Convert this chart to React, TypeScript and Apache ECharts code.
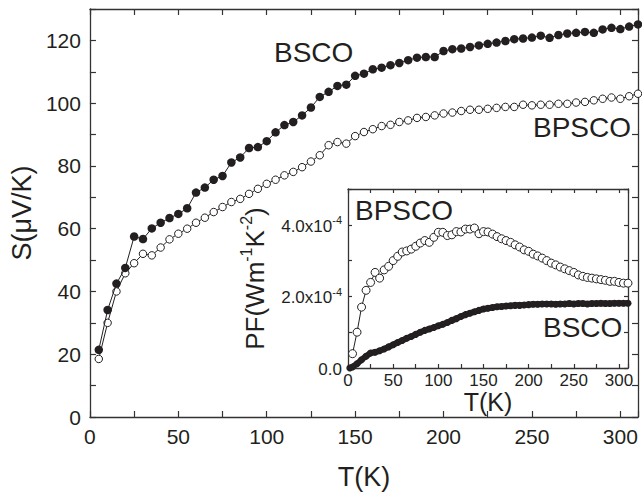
import React, { useEffect, useRef } from 'react';
import * as echarts from 'echarts';

const FONT = '"Liberation Sans", Arial, Helvetica, sans-serif';
const INK = '#231f20';
const AXIS = '#333333';

// Main panel: Seebeck coefficient S (µV/K) vs T (K)
const mainT = [5, 10, 15, 20, 25, 30, 35, 40, 45, 50, 55, 60, 65, 70, 75, 80, 85, 90, 95, 100,
  105, 110, 115, 120, 125, 130, 135, 140, 145, 150, 155, 160, 165, 170, 175, 180, 185, 190, 195, 200,
  205, 210, 215, 220, 225, 230, 235, 240, 245, 250, 255, 260, 265, 270, 275, 280, 285, 290, 295, 300,
  305, 310];
const mainBSCO = [21.4, 34.1, 42.5, 47.5, 57.5, 56.7, 60.1, 61.9, 63.4, 64.7, 66.5, 71.5, 73.1, 75.6, 76.8, 81.1, 82.7, 85.7, 86.0, 87.9,
  90.7, 93.0, 94.0, 96.1, 98.6, 102.0, 103.6, 105.5, 105.9, 108.7, 109.4, 110.8, 111.3, 112.1, 112.8, 113.7, 114.5, 114.7, 114.7, 116.6,
  117.2, 117.4, 117.9, 118.4, 118.9, 119.3, 119.8, 120.4, 120.6, 120.9, 121.5, 120.8, 121.7, 122.2, 122.4, 122.7, 122.4, 123.5, 124.0, 123.6,
  124.4, 125.1];
const mainBPSCO = [18.5, 30.0, 40.0, 45.8, 49.0, 52.0, 51.5, 54.0, 56.6, 58.4, 60.0, 61.9, 63.5, 65.3, 66.9, 68.5, 69.5, 71.1, 72.7, 74.3,
  75.6, 77.0, 78.1, 79.6, 81.4, 83.4, 86.6, 87.6, 87.1, 89.5, 90.8, 91.7, 92.7, 93.1, 94.0, 94.5, 95.3, 95.6, 96.1, 96.7,
  97.0, 97.5, 97.9, 97.9, 98.2, 98.5, 98.8, 98.8, 99.5, 99.3, 99.5, 99.5, 99.8, 99.8, 100.2, 100.4, 100.9, 101.4, 101.8, 101.4,
  102.2, 103.0];

// Inset: power factor PF (x10^-4 W m^-1 K^-2) vs T (K)
const insetT = mainT;
const insetBPSCO = [0.40, 1.00, 1.70, 2.17, 2.39, 2.67, 2.51, 2.74, 2.84, 3.00, 3.12, 3.24, 3.27, 3.32, 3.40, 3.49, 3.56, 3.51, 3.65, 3.79,
  3.79, 3.70, 3.72, 3.81, 3.80, 3.88, 3.88, 3.91, 3.75, 3.81, 3.80, 3.74, 3.67, 3.61, 3.56, 3.51, 3.44, 3.38, 3.30, 3.26,
  3.18, 3.13, 3.07, 3.00, 2.93, 2.88, 2.82, 2.77, 2.72, 2.67, 2.60, 2.56, 2.53, 2.51, 2.49, 2.47, 2.45, 2.42, 2.42, 2.39,
  2.37, 2.37];
const insetT2 = [2, 5, 10, 15, 20, 25, 30, 35, 40, 45, 50, 55, 60, 65, 70, 75, 80, 85, 90, 95, 100,
  105, 110, 115, 120, 125, 130, 135, 140, 145, 150, 155, 160, 165, 170, 175, 180, 185, 190, 195, 200,
  205, 210, 215, 220, 225, 230, 235, 240, 245, 250, 255, 260, 265, 270, 275, 280, 285, 290, 295, 300,
  305, 310];
const insetBSCO = [0.0, 0.03, 0.12, 0.23, 0.33, 0.42, 0.44, 0.48, 0.53, 0.59, 0.65, 0.71, 0.77, 0.83, 0.88, 0.94, 1.00, 1.05, 1.09, 1.13, 1.18,
  1.22, 1.27, 1.33, 1.38, 1.44, 1.49, 1.53, 1.57, 1.61, 1.65, 1.67, 1.69, 1.71, 1.72, 1.73, 1.74, 1.75, 1.75, 1.76, 1.77,
  1.78, 1.78, 1.79, 1.79, 1.79, 1.78, 1.79, 1.79, 1.80, 1.79, 1.80, 1.80, 1.79, 1.80, 1.80, 1.81, 1.80, 1.80, 1.81, 1.81,
  1.81, 1.81];

const zip = (xs: number[], ys: number[]) => xs.map((x, i) => [x, ys[i]]);

export default function App() {
  const ref = useRef<HTMLDivElement>(null);
  useEffect(() => {
    const chart = echarts.init(ref.current!, null, { renderer: 'svg' });
    const axisLine = { show: true, onZero: false, lineStyle: { color: AXIS, width: 1.3 } };
    const tick = (len: number) => ({ show: true, inside: true, length: len, lineStyle: { color: AXIS, width: 1.2 } });
    const noLabel = { show: false };
    const base = { type: 'value' as const, splitLine: { show: false }, axisLine, silent: true };

    const mainX = { min: 0, max: 310, interval: 25 };
    const mainY = { min: 0, max: 130, interval: 10 };
    const inX = { min: 0, max: 310, interval: 25 };
    const inY = { min: 0, max: 5, interval: 1 };

    const openCircle = { color: '#ffffff', borderColor: INK, borderWidth: 1 };

    chart.setOption({
      animation: false,
      textStyle: { fontFamily: FONT, color: INK },
      grid: [
        { left: 87, top: 9, width: 551, height: 409 },
        { left: 348, top: 189, width: 280, height: 179 },
      ],
      xAxis: [
        {
          ...base, ...mainX, gridIndex: 0, position: 'bottom', axisTick: tick(6),
          axisLabel: {
            fontSize: 21, color: INK, fontFamily: FONT, margin: 9,
            formatter: (v: number) => (v % 50 === 0 ? String(v) : ''),
          },
          name: 'T(K)', nameLocation: 'middle', nameGap: 46,
          nameTextStyle: { fontSize: 27, color: INK, fontFamily: FONT },
        },
        { ...base, ...mainX, gridIndex: 0, position: 'top', axisTick: tick(6), axisLabel: noLabel },
        {
          ...base, ...inX, gridIndex: 1, position: 'bottom', axisTick: tick(4),
          axisLabel: {
            fontSize: 17, color: INK, fontFamily: FONT, margin: 4,
            formatter: (v: number) => (v % 50 === 0 ? String(v) : ''),
          },
          name: 'T(K)', nameLocation: 'middle', nameGap: 20,
          nameTextStyle: { fontSize: 25, color: INK, fontFamily: FONT },
        },
        { ...base, ...inX, gridIndex: 1, position: 'top', axisTick: tick(4), axisLabel: noLabel },
      ],
      yAxis: [
        {
          ...base, ...mainY, gridIndex: 0, position: 'left', axisTick: tick(6),
          axisLabel: {
            fontSize: 21, color: INK, fontFamily: FONT, margin: 9,
            formatter: (v: number) => (v % 20 === 0 ? String(v) : ''),
          },
          name: 'S(\u03bcV/K)', nameLocation: 'middle', nameRotate: 90, nameGap: 51,
          nameTextStyle: { fontSize: 27, color: INK, fontFamily: FONT },
        },
        { ...base, ...mainY, gridIndex: 0, position: 'right', axisTick: tick(6), axisLabel: noLabel },
        {
          ...base, ...inY, gridIndex: 1, position: 'left', axisTick: tick(4),
          axisLabel: {
            fontSize: 17, color: INK, fontFamily: FONT, margin: 6,
            formatter: (v: number) => {
              const k = Math.round(v);
              if (Math.abs(v - k) > 1e-6 || k % 2 !== 0 || k > 4) return '';
              if (k === 0) return '{a|0.0}';
              return '{a|' + k.toFixed(1) + 'x10}{b|-4}';
            },
            rich: {
              a: { fontSize: 17, color: INK, fontFamily: FONT, verticalAlign: 'bottom', lineHeight: 20 },
              b: { fontSize: 11, color: INK, fontFamily: FONT, verticalAlign: 'top', lineHeight: 12 },
            },
          },
          name: '{n|PF(Wm}{s|-1}{n|K}{s|-2}{n|)}', nameLocation: 'middle', nameRotate: 90, nameGap: 80,
          nameTextStyle: {
            fontSize: 26, color: INK, fontFamily: FONT,
            rich: {
              n: { fontSize: 26, color: INK, fontFamily: FONT, verticalAlign: 'bottom', lineHeight: 30 },
              s: { fontSize: 16, color: INK, fontFamily: FONT, verticalAlign: 'top', lineHeight: 16 },
            },
          },
        },
        { ...base, ...inY, gridIndex: 1, position: 'right', axisTick: tick(4), axisLabel: noLabel },
      ],
      series: [
        {
          name: 'BSCO', type: 'line', xAxisIndex: 0, yAxisIndex: 0,
          data: zip(mainT, mainBSCO), symbol: 'circle', symbolSize: 8.5,
          itemStyle: { color: INK }, lineStyle: { color: INK, width: 1 }, z: 4, silent: true,
        },
        {
          name: 'BPSCO', type: 'line', xAxisIndex: 0, yAxisIndex: 0,
          data: zip(mainT, mainBPSCO), symbol: 'circle', symbolSize: 7.5,
          itemStyle: openCircle, lineStyle: { color: INK, width: 1 }, z: 3, silent: true,
        },
        {
          name: 'BPSCO inset', type: 'line', xAxisIndex: 2, yAxisIndex: 2,
          data: zip(insetT, insetBPSCO), symbol: 'circle', symbolSize: 8,
          itemStyle: openCircle, lineStyle: { color: INK, width: 1 }, z: 3, silent: true,
        },
        {
          name: 'BSCO inset', type: 'line', xAxisIndex: 2, yAxisIndex: 2,
          data: zip(insetT2, insetBSCO), symbol: 'circle', symbolSize: 7,
          itemStyle: { color: INK }, lineStyle: { color: INK, width: 6 }, z: 4, silent: true,
        },
      ],
      graphic: [
        { type: 'text', left: 274, top: 52 - 14, silent: true,
          style: { text: 'BSCO', fontSize: 28, fontFamily: FONT, fill: INK } },
        { type: 'text', left: 533, top: 127 - 14, silent: true,
          style: { text: 'BPSCO', fontSize: 28, fontFamily: FONT, fill: INK } },
        { type: 'text', left: 355, top: 210 - 14, silent: true,
          style: { text: 'BPSCO', fontSize: 28, fontFamily: FONT, fill: INK } },
        { type: 'text', left: 543, top: 327 - 14, silent: true,
          style: { text: 'BSCO', fontSize: 28, fontFamily: FONT, fill: INK } },
      ],
    });
    return () => chart.dispose();
  }, []);
  return <div ref={ref} style={{ position: 'absolute', left: 0, top: 0, width: 642, height: 495, background: '#fff' }} />;
}
